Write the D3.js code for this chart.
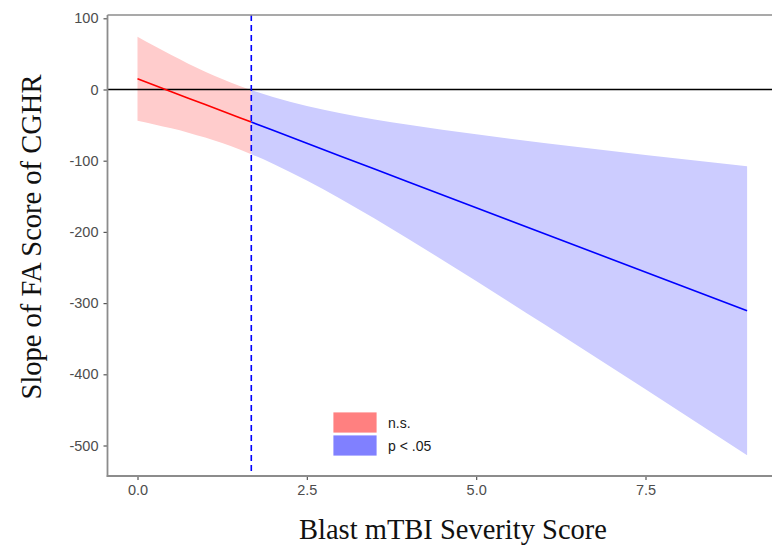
<!DOCTYPE html>
<html><head><meta charset="utf-8">
<script src="https://cdn.jsdelivr.net/npm/d3@7"></script>
<style>html,body{margin:0;padding:0;background:#fff;}</style>
</head><body>
<script>
// Data
const nsX     = [0, 0.25, 0.5, 0.75, 1.0, 1.25, 1.5, 1.68];
const nsEst   = [15, 6, -3.1, -12.2, -21.2, -30.3, -39.3, -45.8];
const nsLower = [-44, -49, -54.5, -60.6, -67.5, -75.3, -84, -90.8];
const nsUpper = [74, 61, 48.3, 36.3, 25.1, 14.8, 5.4, -0.8];

const sigX     = [1.68, 2, 2.5, 3, 3.5, 4, 5, 6, 7, 8, 9];
const sigEst   = [-45.8, -57.4, -75.5, -93.6, -111.7, -129.8, -166, -202.2, -238.4, -274.6, -310.8];
const sigLower = [-90.8, -104.2, -127.8, -153.7, -181.3, -210, -269, -329.4, -390.5, -452, -513.8];
const sigUpper = [-0.8, -10.6, -23.2, -33.5, -42.1, -49.6, -63, -75, -86.3, -97.2, -107.8];

const jnPoint = 1.68;
const xTicks = [0, 2.5, 5, 7.5];
const yTicks = [100, 0, -100, -200, -300, -400, -500];
const legendLabels = ["n.s.", "p < .05"];

const W = 772, H = 546;
const svg = d3.select("body").append("svg").attr("width", W).attr("height", H);

const x = d3.scaleLinear().domain([0, 7.5]).range([137.5, 645.5]);
const y = d3.scaleLinear().domain([0, -500]).range([89.5, 445.5]);
const panelL = 107.5, panelR = 772, panelT = 15, panelB = 476;

// bands
function band(xs, lo, hi, fill) {
  const data = xs.map((d, i) => ({x: d, lo: lo[i], hi: hi[i]}));
  svg.append("path").datum(data)
    .attr("d", d3.area().x(d => x(d.x)).y0(d => y(d.lo)).y1(d => y(d.hi)).curve(d3.curveMonotoneX))
    .attr("fill", fill).attr("stroke", "none");
}
band(nsX, nsLower, nsUpper, "#ffcccc");
band(sigX, sigLower, sigUpper, "#ccccff");

// zero line
svg.append("line").attr("x1", panelL).attr("x2", panelR).attr("y1", y(0)).attr("y2", y(0))
  .attr("stroke", "#000").attr("stroke-width", 1.5);

// estimate lines
function line(xs, ys, color) {
  svg.append("path").datum(xs.map((d, i) => [d, ys[i]]))
    .attr("d", d3.line().x(d => x(d[0])).y(d => y(d[1])))
    .attr("fill", "none").attr("stroke", color).attr("stroke-width", 1.6);
}
line(nsX, nsEst, "#ff0000");
line(sigX, sigEst, "#0000ff");

// JN dashed line
svg.append("line").attr("x1", x(jnPoint)).attr("x2", x(jnPoint)).attr("y1", panelT).attr("y2", panelB)
  .attr("stroke", "#0000ff").attr("stroke-width", 1.6).attr("stroke-dasharray", "6,4");

// panel borders
svg.append("line").attr("x1", panelL).attr("x2", panelR).attr("y1", panelT).attr("y2", panelT)
  .attr("stroke", "#8c8c8c").attr("stroke-width", 1.5);

const hy = v => d3.format("d")(v).replace("\u2212", "-");

// axes
const xAxis = svg.append("g").attr("transform", `translate(0,${panelB})`)
  .call(d3.axisBottom(x).tickValues(xTicks).tickFormat(d3.format(".1f")).tickSizeOuter(0).tickSize(4).tickPadding(5));
xAxis.select(".domain").remove();
svg.append("line").attr("x1", panelL - 0.75).attr("x2", panelR).attr("y1", panelB).attr("y2", panelB)
  .attr("stroke", "#8c8c8c").attr("stroke-width", 1.8);

const yAxis = svg.append("g").attr("transform", `translate(${panelL},0)`)
  .call(d3.axisLeft(y).tickValues(yTicks).tickFormat(hy).tickSizeOuter(0).tickSize(4).tickPadding(5));
yAxis.select(".domain").remove();
svg.append("line").attr("x1", panelL).attr("x2", panelL).attr("y1", panelT).attr("y2", panelB + 0.9)
  .attr("stroke", "#8c8c8c").attr("stroke-width", 1.8);

[xAxis, yAxis].forEach(g => {
  g.selectAll(".tick line").attr("stroke", "#555").attr("stroke-width", 1.2);
  g.selectAll(".tick text").attr("fill", "#4d4d4d")
    .style("font-family", "Liberation Sans, Arial, sans-serif").style("font-size", "14.5px");
});

// axis titles
svg.append("text").attr("x", 453).attr("y", 539).attr("text-anchor", "middle")
  .style("font-family", "Liberation Serif, Times New Roman, serif").style("font-size", "28.5px")
  .attr("fill", "#111").text("Blast mTBI Severity Score");
svg.append("text").attr("transform", "translate(41,237) rotate(-90)").attr("text-anchor", "middle")
  .style("font-family", "Liberation Serif, Times New Roman, serif").style("font-size", "28.5px")
  .attr("fill", "#111").text("Slope of FA Score of CGHR");

// legend
const legColors = ["#ff8080", "#8080ff"];
const leg = svg.append("g").attr("transform", "translate(333,412)");
legendLabels.forEach((lab, i) => {
  leg.append("rect").attr("x", 0).attr("y", i * 23).attr("width", 44).attr("height", 21)
    .attr("fill", legColors[i]).attr("stroke", "#fff").attr("stroke-width", 0.8);
  leg.append("text").attr("x", 55).attr("y", i * 23 + 15.5)
    .style("font-family", "Liberation Sans, Arial, sans-serif").style("font-size", "14px")
    .attr("fill", "#1a1a1a").text(lab);
});
</script>
</body></html>
